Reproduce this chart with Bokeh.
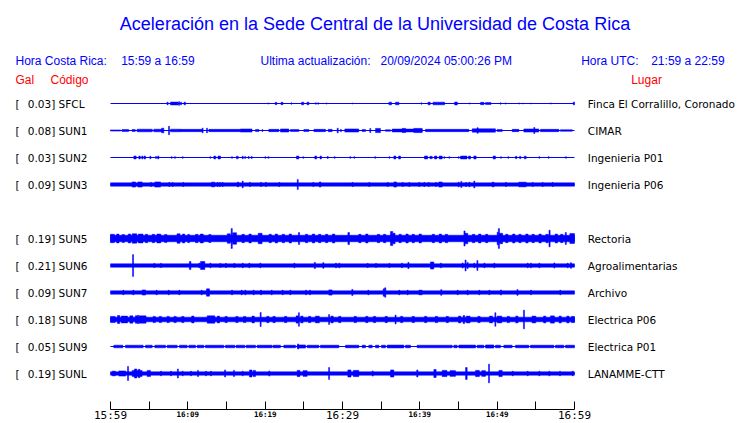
from bokeh.plotting import figure
from bokeh.layouts import column
from bokeh.models import ColumnDataSource, Range1d, LinearAxis, FixedTicker
from bokeh.core.properties import value
from bokeh.embed import file_html
from bokeh.resources import INLINE

# ---------------- data ----------------
TITLE = "Aceleración en la Sede Central de la Universidad de Costa Rica"
HORA_CR = "15:59 a 16:59"
UPDATED = "20/09/2024 05:00:26 PM"
HORA_UTC = "21:59 a 22:59"

CODES = ["SFCL", "SUN1", "SUN2", "SUN3", "SUN5", "SUN6", "SUN7", "SUN8", "SUN9", "SUNL"]
PEAK_GAL = [0.03, 0.08, 0.03, 0.09, 0.19, 0.21, 0.09, 0.18, 0.05, 0.19]
PLACES = ["Finca El Corralillo, Coronado", "CIMAR", "Ingenieria P01", "Ingenieria P06",
          "Rectoria", "Agroalimentarias", "Archivo", "Electrica P06", "Electrica P01",
          "LANAMME-CTT"]
# background (noise) half-amplitude of each trace, gal
BASE_GAL = [0.0, 0.0, 0.0, 0.032, 0.063, 0.033, 0.033, 0.045, 0.0, 0.033]
# row slot of each station (slot 4 = SUN4, not shown)
SLOTS = [0, 1, 2, 3, 5, 6, 7, 8, 9, 10]

# bursts: (start minute, end minute, half-amplitude gal)
EV_SFCL = [(7.3, 7.45, 0.025), (7.75, 8.75, 0.028), (8.8, 8.95, 0.035), (9.05, 9.2, 0.025),
           (9.5, 9.7, 0.025), (20.35, 20.45, 0.012), (21.3, 21.5, 0.022), (22.05, 22.3, 0.022),
           (23.35, 23.45, 0.015), (24.7, 25.0, 0.025), (25.4, 25.65, 0.025), (26.5, 26.6, 0.015),
           (26.8, 26.9, 0.015), (27.9, 28.0, 0.012), (31.25, 31.35, 0.01), (36.0, 36.35, 0.025),
           (36.85, 37.3, 0.025), (40.15, 40.25, 0.015), (41.05, 41.35, 0.025), (41.7, 43.2, 0.025),
           (44.5, 44.85, 0.028), (46.4, 46.5, 0.012), (47.85, 48.3, 0.022), (48.5, 49.2, 0.02),
           (50.4, 50.5, 0.015), (51.05, 51.15, 0.012), (52.8, 52.9, 0.012), (53.3, 53.4, 0.01),
           (54.3, 54.4, 0.01), (56.9, 57.0, 0.012), (59.85, 60.0, 0.028)]
EV_SUN1 = [(0.0, 1.3, 0.012), (1.5, 2.35, 0.02), (2.8, 3.2, 0.02), (3.45, 5.4, 0.025),
           (5.6, 6.6, 0.025), (6.6, 6.9, 0.045), (7.5, 7.63, 0.08), (7.76, 9.05, 0.025),
           (9.05, 11.85, 0.022), (11.85, 11.98, 0.045), (12.41, 12.54, 0.045), (12.72, 16.8, 0.022),
           (16.8, 18.3, 0.03), (18.75, 19.2, 0.02), (19.6, 19.7, 0.02), (20.47, 21.77, 0.022),
           (21.98, 23.06, 0.03), (23.28, 24.35, 0.02), (25.0, 25.65, 0.02), (26.3, 27.8, 0.022),
           (28.15, 28.66, 0.022), (29.31, 29.45, 0.045), (29.74, 29.85, 0.022), (30.3, 32.1, 0.03),
           (32.54, 32.97, 0.02), (33.53, 33.66, 0.04), (34.27, 34.91, 0.04), (35.56, 36.2, 0.015),
           (36.42, 40.3, 0.028), (37.72, 38.15, 0.04), (39.22, 40.3, 0.04), (40.73, 46.34, 0.022),
           (46.77, 49.78, 0.032), (47.41, 47.54, 0.055), (50.0, 50.65, 0.02), (51.94, 52.8, 0.022),
           (53.45, 55.39, 0.03), (54.74, 54.87, 0.058), (55.6, 57.97, 0.022), (58.19, 59.7, 0.015)]
EV_SUN2 = [(3.02, 3.32, 0.028), (3.66, 3.85, 0.028), (4.05, 4.2, 0.028), (4.35, 4.53, 0.028),
           (5.09, 5.22, 0.025), (5.82, 5.95, 0.02), (6.1, 6.25, 0.028), (7.84, 7.97, 0.015),
           (8.28, 8.41, 0.015), (9.27, 9.4, 0.015), (12.85, 12.98, 0.015), (13.36, 13.6, 0.028),
           (13.9, 14.22, 0.028), (15.65, 15.78, 0.015), (16.29, 16.51, 0.025), (17.03, 17.16, 0.025),
           (17.35, 17.46, 0.02), (17.8, 17.93, 0.02), (18.19, 18.32, 0.02), (19.96, 20.09, 0.015),
           (20.35, 20.48, 0.015), (24.05, 24.35, 0.028), (24.87, 25.0, 0.015), (26.42, 26.65, 0.028),
           (27.1, 27.28, 0.028), (28.02, 28.15, 0.02), (28.92, 29.05, 0.015), (30.95, 31.08, 0.015),
           (31.47, 31.6, 0.015), (34.18, 34.31, 0.015), (36.0, 36.13, 0.015), (36.64, 36.9, 0.028),
           (37.25, 37.5, 0.028), (40.6, 41.0, 0.028), (41.3, 41.6, 0.022), (41.9, 42.2, 0.028),
           (42.5, 42.89, 0.028), (43.1, 43.23, 0.015), (43.75, 43.88, 0.015), (44.96, 45.09, 0.015),
           (45.26, 46.1, 0.028), (46.3, 46.55, 0.028), (46.98, 47.28, 0.028), (49.48, 49.78, 0.028),
           (50.43, 50.56, 0.015), (51.38, 51.51, 0.015), (52.37, 52.55, 0.022), (52.9, 53.05, 0.022),
           (53.5, 53.75, 0.025), (55.39, 55.52, 0.015), (56.59, 56.72, 0.015), (58.83, 58.96, 0.015)]
EV_SUN3 = [(2.8, 3.23, 0.05), (3.53, 4.09, 0.05), (5.17, 5.3, 0.04), (5.73, 6.47, 0.05),
           (7.54, 7.67, 0.04), (7.97, 8.1, 0.04), (9.35, 9.48, 0.04), (13.06, 13.49, 0.045),
           (13.79, 13.92, 0.04), (14.09, 14.22, 0.04), (14.44, 14.57, 0.04), (16.38, 16.59, 0.045),
           (17.03, 17.16, 0.065), (17.97, 18.1, 0.04), (19.4, 19.53, 0.04), (20.04, 20.17, 0.04),
           (21.77, 21.9, 0.04), (24.15, 24.28, 0.095), (26.16, 26.29, 0.04), (27.0, 27.2, 0.05),
           (31.25, 31.38, 0.04), (33.4, 33.53, 0.04), (35.78, 35.91, 0.04), (36.64, 36.98, 0.05),
           (37.72, 37.85, 0.04), (38.58, 38.71, 0.04), (39.87, 40.0, 0.04), (40.52, 40.65, 0.04),
           (41.08, 41.21, 0.04), (42.03, 42.16, 0.04), (42.46, 42.89, 0.05), (44.96, 45.09, 0.045),
           (45.3, 45.43, 0.06), (45.91, 46.04, 0.04), (46.34, 46.47, 0.045), (46.98, 47.11, 0.065),
           (49.35, 49.6, 0.045), (51.08, 51.21, 0.04), (52.8, 53.75, 0.045), (54.53, 54.66, 0.04),
           (55.82, 55.95, 0.04), (57.11, 57.24, 0.04)]
EV_SUN5 = [(0.0, 0.5, 0.08), (0.8, 1.1, 0.085), (1.5, 1.8, 0.075), (2.3, 2.6, 0.085),
           (2.8, 3.4, 0.09), (3.6, 4.2, 0.085), (4.5, 4.8, 0.08), (5.4, 5.7, 0.08), (6.0, 6.5, 0.085),
           (7.0, 7.3, 0.075), (8.6, 9.0, 0.09), (9.3, 9.6, 0.085), (10.0, 10.2, 0.08),
           (11.0, 11.3, 0.08), (11.6, 12.0, 0.085), (12.7, 13.0, 0.075), (15.1, 15.5, 0.09),
           (15.6, 15.75, 0.19), (15.8, 16.3, 0.11), (17.0, 17.3, 0.08), (17.9, 18.2, 0.085),
           (19.1, 19.6, 0.1), (20.5, 20.8, 0.08), (21.3, 21.6, 0.085), (22.2, 22.5, 0.08),
           (23.1, 23.4, 0.085), (24.3, 24.45, 0.115), (25.2, 25.5, 0.08), (26.1, 26.4, 0.085),
           (26.9, 27.2, 0.08), (27.8, 28.1, 0.08), (28.7, 29.0, 0.085), (30.7, 30.9, 0.115),
           (32.1, 32.4, 0.08), (33.0, 33.3, 0.085), (34.5, 34.8, 0.08), (35.3, 35.6, 0.08),
           (36.2, 36.5, 0.135), (36.5, 36.8, 0.1), (37.3, 37.6, 0.08), (38.2, 38.5, 0.085),
           (39.0, 39.3, 0.08), (39.9, 40.2, 0.085), (41.6, 41.9, 0.08), (42.5, 42.8, 0.085),
           (43.3, 43.6, 0.08), (45.7, 45.85, 0.145), (45.85, 46.2, 0.1), (46.8, 47.1, 0.08),
           (47.6, 47.9, 0.085), (48.5, 48.8, 0.08), (50.0, 50.15, 0.12), (50.15, 50.3, 0.19),
           (50.3, 50.7, 0.1), (51.1, 51.4, 0.08), (52.0, 52.3, 0.085), (52.8, 53.1, 0.08),
           (53.7, 54.0, 0.085), (54.5, 54.8, 0.08), (55.4, 55.7, 0.085), (56.3, 56.6, 0.08),
           (56.7, 56.85, 0.16), (57.5, 57.8, 0.085), (58.2, 58.5, 0.08), (58.8, 58.95, 0.115),
           (59.4, 60.0, 0.095)]
EV_SUN6 = [(2.85, 2.98, 0.21), (5.6, 5.73, 0.04), (6.47, 6.6, 0.04), (10.2, 10.4, 0.077),
           (11.42, 11.55, 0.045), (11.64, 12.2, 0.077), (12.85, 12.98, 0.045), (14.14, 14.27, 0.04),
           (14.87, 15.0, 0.04), (15.95, 16.08, 0.04), (17.03, 17.16, 0.045), (17.89, 18.02, 0.045),
           (19.31, 19.44, 0.045), (23.71, 23.84, 0.045), (26.35, 26.5, 0.06), (27.45, 27.6, 0.055),
           (29.09, 29.22, 0.045), (29.52, 29.65, 0.045), (33.19, 33.32, 0.04), (34.27, 34.4, 0.04),
           (36.0, 36.13, 0.04), (37.63, 37.76, 0.045), (38.45, 38.6, 0.06), (41.38, 41.81, 0.068),
           (42.67, 42.8, 0.045), (45.47, 45.6, 0.05), (45.85, 45.98, 0.105), (46.12, 46.25, 0.06),
           (46.98, 47.11, 0.045), (47.38, 47.51, 0.095), (48.28, 48.41, 0.045), (49.57, 49.7, 0.045),
           (53.88, 54.01, 0.045), (54.31, 54.44, 0.045), (55.39, 55.52, 0.045), (57.33, 57.46, 0.05),
           (59.05, 59.18, 0.045), (59.48, 59.61, 0.055)]
EV_SUN7 = [(1.6, 1.73, 0.045), (2.89, 3.02, 0.045), (4.1, 4.53, 0.05), (5.9, 6.03, 0.045),
           (7.46, 7.59, 0.045), (8.84, 8.97, 0.045), (11.72, 11.85, 0.045), (12.41, 12.8, 0.07),
           (15.65, 15.78, 0.045), (16.9, 17.03, 0.045), (17.37, 17.5, 0.045), (18.45, 18.58, 0.045),
           (19.4, 19.53, 0.045), (20.78, 20.91, 0.045), (22.2, 22.33, 0.045), (23.19, 23.32, 0.045),
           (25.22, 25.35, 0.045), (25.73, 25.86, 0.045), (28.23, 28.66, 0.05), (31.2, 31.35, 0.06),
           (33.28, 33.41, 0.045), (35.26, 35.45, 0.07), (35.45, 35.6, 0.09), (37.28, 37.41, 0.045),
           (38.36, 38.49, 0.045), (39.87, 40.3, 0.045), (42.7, 42.85, 0.055), (44.83, 44.96, 0.045),
           (46.12, 46.25, 0.045), (47.63, 47.76, 0.045), (48.92, 49.05, 0.045), (50.43, 50.56, 0.05),
           (52.55, 52.7, 0.055), (54.31, 54.44, 0.045), (58.1, 58.23, 0.045)]
EV_SUN8 = [(0.0, 0.6, 0.06), (0.9, 1.2, 0.077), (1.4, 2.2, 0.065), (2.5, 2.9, 0.07),
           (3.2, 3.5, 0.07), (3.5, 3.65, 0.08), (3.7, 4.6, 0.07), (5.5, 5.8, 0.06), (6.3, 6.6, 0.06),
           (7.3, 7.6, 0.06), (8.2, 8.5, 0.06), (9.2, 9.5, 0.06), (10.5, 10.8, 0.065),
           (12.5, 13.5, 0.07), (13.8, 14.1, 0.065), (14.8, 15.1, 0.06), (16.2, 16.5, 0.06),
           (17.2, 17.5, 0.06), (18.3, 18.6, 0.065), (19.35, 19.48, 0.135), (20.2, 20.5, 0.06),
           (21.0, 21.3, 0.06), (22.5, 22.8, 0.06), (24.0, 24.3, 0.07), (24.3, 24.43, 0.13),
           (24.6, 24.9, 0.065), (25.6, 25.9, 0.06), (26.5, 27.0, 0.065), (28.2, 28.33, 0.095),
           (28.5, 28.8, 0.065), (29.5, 29.8, 0.06), (31.5, 31.8, 0.06), (33.0, 33.3, 0.06),
           (34.0, 34.3, 0.06), (35.5, 35.8, 0.06), (36.8, 36.93, 0.085), (37.5, 37.8, 0.06),
           (39.0, 39.3, 0.06), (40.6, 40.9, 0.06), (42.0, 42.3, 0.06), (43.4, 43.7, 0.06),
           (45.0, 45.3, 0.065), (45.6, 45.8, 0.077), (46.0, 46.5, 0.065), (47.5, 47.8, 0.06),
           (49.0, 49.4, 0.065), (49.7, 49.83, 0.13), (50.0, 50.6, 0.065), (51.3, 51.6, 0.06),
           (52.4, 52.7, 0.065), (53.4, 53.53, 0.18), (54.5, 55.0, 0.065), (56.0, 56.3, 0.065),
           (56.9, 57.4, 0.07), (58.0, 58.3, 0.065), (59.0, 59.3, 0.065), (59.6, 60.0, 0.06)]
EV_SUN9 = [(0.43, 1.6, 0.025), (1.94, 4.22, 0.025), (4.53, 5.39, 0.025), (5.73, 7.11, 0.025),
           (7.33, 8.62, 0.025), (8.92, 9.91, 0.025), (10.13, 10.99, 0.025), (11.21, 12.07, 0.025),
           (12.28, 14.65, 0.025), (14.87, 16.08, 0.025), (16.25, 17.37, 0.025), (17.54, 18.75, 0.025),
           (18.97, 20.9, 0.025), (21.03, 21.98, 0.025), (22.41, 23.92, 0.025), (24.14, 25.22, 0.03),
           (24.2, 24.33, 0.05), (25.43, 26.94, 0.025), (27.15, 29.52, 0.025), (30.39, 32.11, 0.025),
           (32.54, 32.97, 0.025), (33.4, 33.84, 0.025), (34.27, 34.7, 0.025), (35.04, 35.56, 0.025),
           (35.78, 37.93, 0.028), (38.15, 38.79, 0.025), (39.65, 44.18, 0.025), (44.4, 44.83, 0.025),
           (45.04, 47.2, 0.028), (47.41, 48.28, 0.025), (48.49, 49.57, 0.03), (49.78, 50.43, 0.025),
           (50.86, 51.94, 0.025), (52.37, 54.09, 0.025), (54.31, 57.33, 0.025),
           (57.54, 58.62, 0.025), (58.84, 60.0, 0.025)]
EV_SUNL = [(0.22, 0.65, 0.045), (1.08, 1.94, 0.05), (2.2, 2.33, 0.135), (2.8, 4.09, 0.06),
           (3.1, 3.4, 0.087), (3.6, 3.8, 0.08), (4.74, 5.17, 0.06), (6.47, 6.6, 0.045),
           (7.76, 7.89, 0.045), (8.65, 8.78, 0.087), (9.27, 9.4, 0.045), (10.35, 10.48, 0.045),
           (11.25, 11.38, 0.06), (12.28, 12.41, 0.045), (12.93, 13.06, 0.045), (14.75, 14.88, 0.068),
           (15.9, 16.03, 0.06), (17.03, 17.16, 0.045), (17.97, 18.3, 0.068), (18.45, 18.75, 0.06),
           (20.47, 20.6, 0.05), (24.14, 24.5, 0.06), (24.9, 25.43, 0.055), (28.2, 28.33, 0.115),
           (30.69, 31.1, 0.068), (31.4, 32.11, 0.06), (33.84, 33.97, 0.05),
           (36.21, 36.64, 0.068), (39.6, 39.75, 0.068), (41.81, 42.11, 0.077), (42.89, 43.5, 0.06),
           (43.9, 44.61, 0.055), (45.91, 46.12, 0.115), (47.2, 47.7, 0.06), (48.0, 48.49, 0.055),
           (48.88, 49.01, 0.18), (50.22, 50.65, 0.06),
           (51.94, 52.07, 0.045), (53.88, 54.01, 0.045), (55.39, 55.52, 0.045), (56.68, 56.81, 0.045),
           (58.06, 58.19, 0.045), (59.7, 59.83, 0.045)]
EVENTS = [EV_SFCL, EV_SUN1, EV_SUN2, EV_SUN3, EV_SUN5, EV_SUN6, EV_SUN7, EV_SUN8, EV_SUN9, EV_SUNL]

WINDOW_MIN = 60
TICK_MIN = [0, 5, 10, 15, 20, 25, 30, 35, 40, 45, 50, 55, 60]
SMALL_TICK_MIN = [10, 20, 40, 50]
SMALL_TICK_LABELS = ["16:09", "16:19", "16:39", "16:49"]
BIG_TICK_MIN = [0, 30, 60]
BIG_TICK_LABELS = ["15:59", "16:29", "16:59"]

# ---------------- layout (pixels of the 740x423 page) ----------------
W = 740
H_MAIN = 400                       # traces + texts
H_AXIS = 23                        # time axis strip (400..423)
PX_PER_MIN = 464 / WINDOW_MIN      # trace area 110..574 px
T0_PX = 110                        # page x of minute 0
ROW_PX = 27
ROW0_PX = 103                      # page y of slot 0
GAIN = 52.0 / ROW_PX               # rows per gal (52 px per gal)
BLUE = "#0000ff"
BASE_FIX = 0.37                    # svg baseline correction, in em


def fx(px):
    return (px - T0_PX) / PX_PER_MIN


def fy(py, fs=0.0):
    return (py - BASE_FIX * fs - ROW0_PX) / ROW_PX


xr = Range1d(fx(0), fx(W))
p = figure(width=W, height=H_MAIN, x_range=xr,
           y_range=Range1d(fy(H_MAIN), fy(0)),
           x_axis_type=None, y_axis_type=None,
           toolbar_location=None, output_backend="svg",
           min_border=0, outline_line_color=None,
           background_fill_color="white", border_fill_color="white")
p.xgrid.visible = False
p.ygrid.visible = False

# ---- traces ----
L, R, B, T = [], [], [], []
for slot, base, evs in zip(SLOTS, BASE_GAL, EVENTS):
    if base > 0:
        L.append(0); R.append(WINDOW_MIN)
        B.append(slot - base * GAIN); T.append(slot + base * GAIN)
    for t0, t1, a in evs:
        L.append(t0); R.append(t1)
        B.append(slot - a * GAIN); T.append(slot + a * GAIN)
p.quad(left=L, right=R, bottom=B, top=T, fill_color=BLUE, line_color=BLUE, line_width=0.5)
p.segment(x0=[0] * len(SLOTS), x1=[WINDOW_MIN] * len(SLOTS), y0=SLOTS, y1=SLOTS,
          line_color=BLUE, line_width=1)

# ---- station labels ----
ROW_FS = 10.5
lab = ColumnDataSource(dict(
    y=[s + fy(ROW0_PX + 4.2, ROW_FS) for s in SLOTS],
    br=["["] * len(CODES),
    val=[f"{v:.2f}] {c}" for v, c in zip(PEAK_GAL, CODES)],
    place=PLACES))
common = dict(y="y", source=lab, text_font=value("DejaVu Sans"), text_font_size=f"{ROW_FS}px",
              text_color="black", text_baseline="alphabetic")
p.text(x=fx(15), text="br", **common)
p.text(x=fx(27.3), text="val", **common)
p.text(x=fx(587.3), text="place", **common)

# ---- header ----
hdr = ColumnDataSource(dict(
    x=[fx(15), fx(120.7), fx(260), fx(380), fx(580.7), fx(650.7)],
    y=[fy(65, 12)] * 6,
    t=["Hora Costa Rica:", HORA_CR, "Ultima actualización:", UPDATED, "Hora UTC:", HORA_UTC]))
p.text(x="x", y="y", text="t", source=hdr, text_font=value("Liberation Sans"),
       text_font_size="12px", text_color=BLUE, text_baseline="alphabetic")
red = ColumnDataSource(dict(x=[fx(15), fx(50), fx(630.7)], y=[fy(84.3, 12)] * 3,
                            t=["Gal", "Código", "Lugar"]))
p.text(x="x", y="y", text="t", source=red, text_font=value("Liberation Sans"),
       text_font_size="12px", text_color="#ff0000", text_baseline="alphabetic")
p.text(x=[fx(374.5)], y=[fy(30, 18)], text=[TITLE], text_font=value("Liberation Sans"),
       text_font_size="18px", text_color=BLUE, text_align="center",
       text_baseline="alphabetic")

# ---- time axis strip ----
AXIS_GAP = 9                       # axis line at page y 409
q = figure(width=W, height=H_AXIS, x_range=xr,
           y_range=Range1d(H_AXIS - AXIS_GAP, 0),
           x_axis_type=None, y_axis_type=None,
           toolbar_location=None, output_backend="svg",
           min_border=0, min_border_top=AXIS_GAP, outline_line_color=None,
           background_fill_color="white", border_fill_color="white")
q.xgrid.visible = False
q.ygrid.visible = False
ax = LinearAxis(ticker=FixedTicker(ticks=TICK_MIN), bounds=(0, WINDOW_MIN),
                major_tick_in=0, major_tick_out=8, minor_tick_line_color=None,
                axis_line_color="black", major_tick_line_color="black",
                major_label_standoff=0, major_label_text_font_size="0px",
                major_label_overrides={t: "" for t in TICK_MIN})
q.add_layout(ax, "above")
q.text(x=SMALL_TICK_MIN, y=[7.9 - BASE_FIX * 7.5] * len(SMALL_TICK_MIN), text=SMALL_TICK_LABELS,
       text_font=value("DejaVu Sans Mono"), text_font_size="7.5px", text_font_style="bold",
       text_color="black", text_align="center", text_baseline="alphabetic")
q.text(x=BIG_TICK_MIN, y=[10.5 - BASE_FIX * 11] * len(BIG_TICK_MIN), text=BIG_TICK_LABELS,
       text_font=value("DejaVu Sans Mono"), text_font_size="11px",
       text_color="black", text_align="center", text_baseline="alphabetic")

layout = column(p, q, spacing=0)
open("out.html", "w").write(file_html(layout, INLINE))
